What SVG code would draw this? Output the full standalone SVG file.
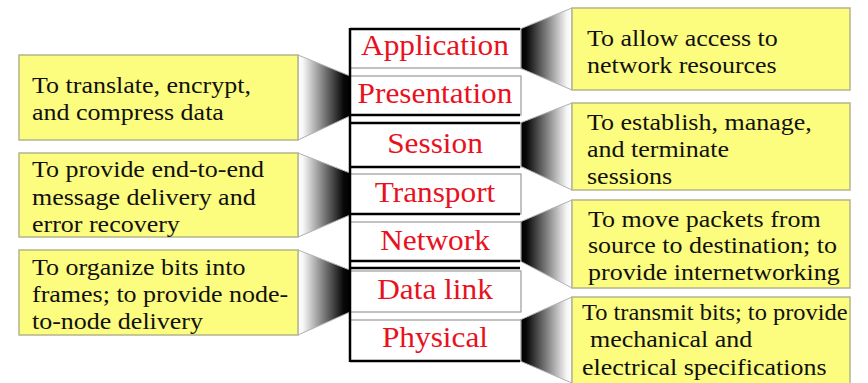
<svg xmlns="http://www.w3.org/2000/svg" width="868" height="383" viewBox="0 0 868 383">
<defs>
<linearGradient id="gR" x1="0" y1="0" x2="1" y2="0">
<stop offset="0" stop-color="#000"/>
<stop offset="0.12" stop-color="#080808"/>
<stop offset="0.55" stop-color="#8a8a8a"/>
<stop offset="0.9" stop-color="#f6f6f6"/>
<stop offset="1" stop-color="#fff"/>
</linearGradient>
<linearGradient id="gL" x1="1" y1="0" x2="0" y2="0">
<stop offset="0" stop-color="#000"/>
<stop offset="0.12" stop-color="#080808"/>
<stop offset="0.55" stop-color="#8a8a8a"/>
<stop offset="0.9" stop-color="#f6f6f6"/>
<stop offset="1" stop-color="#fff"/>
</linearGradient>
<style>
.lay{fill:#fff;stroke:#9a9a9a;stroke-width:1.2}
.blk{stroke:#000;stroke-width:2.5;fill:none}
.lbl{font-family:"Liberation Serif","Times New Roman",serif;font-size:29px;fill:#e8121e;text-anchor:middle}
.box{fill:#fcfc7e;stroke:#b4b48c;stroke-width:1.5}
.dsc{font-family:"Liberation Serif","Times New Roman",serif;font-size:23px;fill:#111}
.cr{fill:url(#gR);stroke:#b0b0b0;stroke-width:1}
.cl{fill:url(#gL);stroke:#b0b0b0;stroke-width:1}
</style>
</defs>
<rect width="868" height="383" fill="#fff"/>
<g id="connectors">
<polygon class="cr" points="520,29 572,8 572,90 520,68"/>
<polygon class="cr" points="520,123 572,103 572,190 520,166"/>
<polygon class="cr" points="520,222 572,200 572,288 520,261"/>
<polygon class="cr" points="520,320 572,297 572,383 520,361"/>
<polygon class="cl" points="298,55 350,76 350,116 298,140"/>
<polygon class="cl" points="298,153 350,173 350,215 298,237"/>
<polygon class="cl" points="298,250 350,270 350,312 298,335"/>
</g>
<g id="layer-application">
<rect class="lay" x="350" y="29" width="171" height="39"/>
<text class="lbl" transform="translate(435,55) scale(1.08,1)">Application</text>
</g>
<g id="layer-presentation">
<rect class="lay" x="350" y="76" width="171" height="39"/>
<text class="lbl" transform="translate(435,103) scale(1.08,1)">Presentation</text>
</g>
<g id="layer-session">
<rect class="lay" x="350" y="123" width="171" height="44"/>
<text class="lbl" transform="translate(435,153) scale(1.08,1)">Session</text>
</g>
<g id="layer-transport">
<rect class="lay" x="350" y="174" width="171" height="40"/>
<text class="lbl" transform="translate(435,202) scale(1.08,1)">Transport</text>
</g>
<g id="layer-network">
<rect class="lay" x="350" y="222" width="171" height="39"/>
<text class="lbl" transform="translate(435,250) scale(1.08,1)">Network</text>
</g>
<g id="layer-datalink">
<rect class="lay" x="350" y="271" width="171" height="41"/>
<text class="lbl" transform="translate(435,299) scale(1.08,1)">Data link</text>
</g>
<g id="layer-physical">
<rect class="lay" x="350" y="320" width="171" height="41"/>
<text class="lbl" transform="translate(435,347) scale(1.08,1)">Physical</text>
</g>
<g id="stack-lines">
<line class="blk" x1="350" y1="28" x2="350" y2="362"/>
<line class="blk" x1="350" y1="29" x2="520" y2="29"/>
<line class="blk" x1="350" y1="115" x2="520" y2="115"/>
<line class="blk" x1="350" y1="123" x2="520" y2="123"/>
<line class="blk" x1="350" y1="167" x2="520" y2="167"/>
<line class="blk" x1="350" y1="214" x2="520" y2="214"/>
<line class="blk" x1="350" y1="261" x2="520" y2="261"/>
<line class="blk" x1="350" y1="268" x2="520" y2="268"/>
<line class="blk" x1="350" y1="361" x2="520" y2="361"/>
</g>
<g id="desc-presentation">
<rect class="box" x="19" y="55" width="279" height="85"/>
<text class="dsc" transform="translate(32,93) scale(1.13,1)">To translate, encrypt,</text>
<text class="dsc" transform="translate(32,120) scale(1.13,1)">and compress data</text>
</g>
<g id="desc-transport">
<rect class="box" x="19" y="153" width="279" height="84"/>
<text class="dsc" transform="translate(32,177) scale(1.13,1)">To provide end-to-end</text>
<text class="dsc" transform="translate(32,205) scale(1.13,1)">message delivery and</text>
<text class="dsc" transform="translate(32,232) scale(1.13,1)">error recovery</text>
</g>
<g id="desc-datalink">
<rect class="box" x="19" y="250" width="279" height="85"/>
<text class="dsc" transform="translate(32,275) scale(1.13,1)">To organize bits into</text>
<text class="dsc" transform="translate(32,302) scale(1.13,1)">frames; to provide node-</text>
<text class="dsc" transform="translate(32,329) scale(1.13,1)">to-node delivery</text>
</g>
<g id="desc-application">
<rect class="box" x="572" y="8" width="278" height="82"/>
<text class="dsc" transform="translate(587,46) scale(1.13,1)">To allow access to</text>
<text class="dsc" transform="translate(587,73) scale(1.13,1)">network resources</text>
</g>
<g id="desc-session">
<rect class="box" x="572" y="103" width="278" height="87"/>
<text class="dsc" transform="translate(587,130) scale(1.13,1)">To establish, manage,</text>
<text class="dsc" transform="translate(587,157) scale(1.13,1)">and terminate</text>
<text class="dsc" transform="translate(587,184) scale(1.13,1)">sessions</text>
</g>
<g id="desc-network">
<rect class="box" x="572" y="200" width="278" height="88"/>
<text class="dsc" transform="translate(588,227) scale(1.13,1)">To move packets from</text>
<text class="dsc" transform="translate(588,253) scale(1.13,1)">source to destination; to</text>
<text class="dsc" transform="translate(588,280) scale(1.13,1)">provide internetworking</text>
</g>
<g id="desc-physical">
<rect class="box" x="572" y="297" width="278" height="92"/>
<text class="dsc" transform="translate(582,320) scale(1.13,1)" textLength="235" lengthAdjust="spacingAndGlyphs">To transmit bits; to provide</text>
<text class="dsc" transform="translate(590,347) scale(1.13,1)">mechanical and</text>
<text class="dsc" transform="translate(582,375) scale(1.13,1)">electrical specifications</text>
</g>
</svg>
